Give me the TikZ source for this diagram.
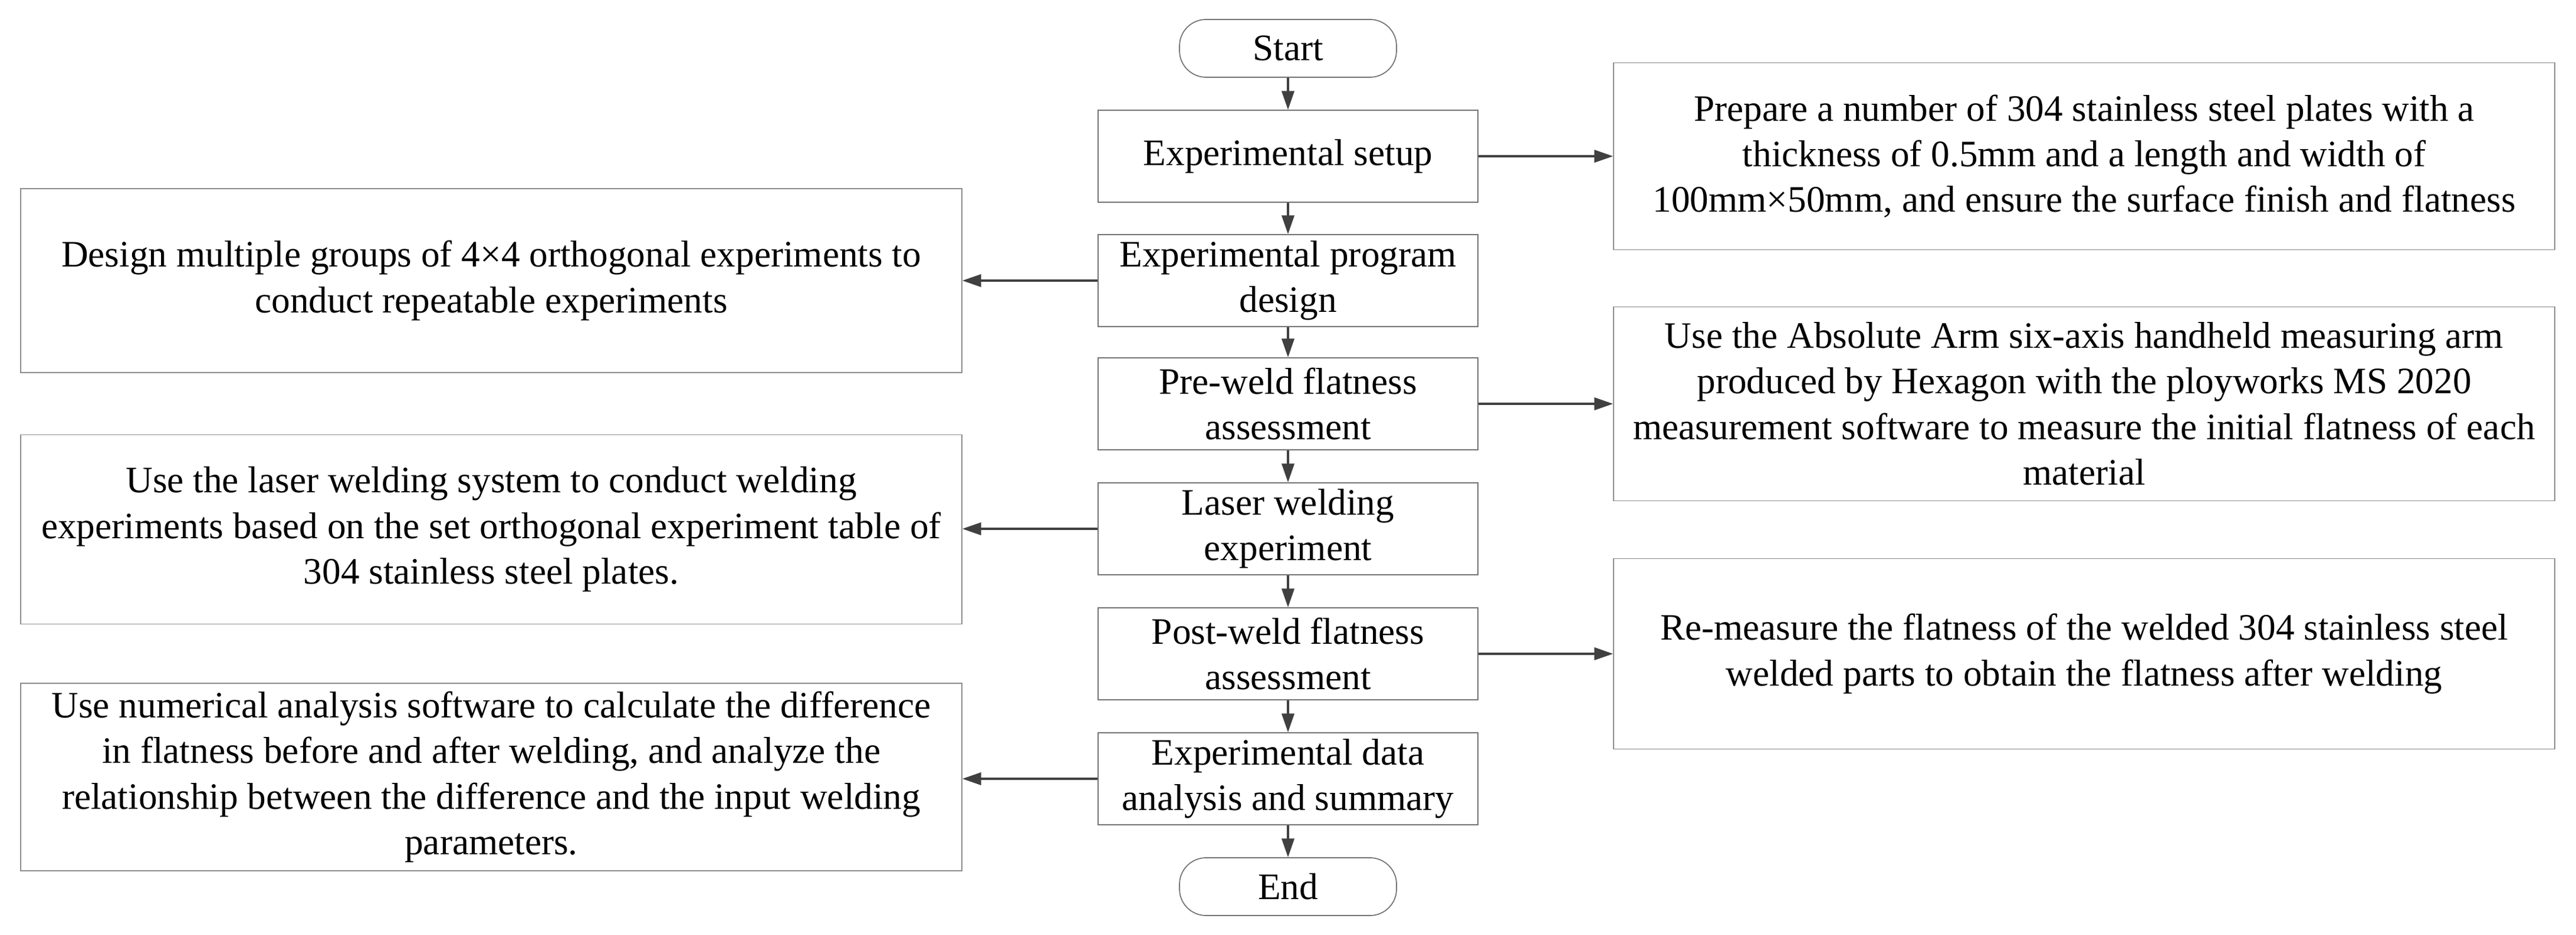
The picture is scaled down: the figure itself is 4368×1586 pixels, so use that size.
\documentclass[tikz,border=0pt]{standalone}
\usepackage{fontspec}
\setmainfont{Liberation Serif}
\usetikzlibrary{arrows.meta}
\begin{document}
\begin{tikzpicture}[x=0.01cm,y=-0.01cm,
  every node/.style={font=\fontsize{18}{22}\selectfont, align=center, inner sep=0pt},
  box/.style={draw=black!55, line width=0.5pt, minimum width=644*0.01cm, minimum height=156*0.01cm},
  term/.style={draw=black!55, line width=0.5pt, rounded corners=0.45cm, minimum width=368*0.01cm, minimum height=98*0.01cm},
  note/.style={draw=black!45, line width=0.5pt, minimum width=1596*0.01cm},
  arr/.style={draw=black!75, line width=0.9pt, -{Triangle[length=9pt,width=6pt]}}]
\useasboundingbox (0,0) rectangle (4368,1586);
\node[term] (start) at (2184,82) {Start};
\node[box] (setup) at (2184,265) {Experimental setup};
\node[box] (design) at (2184,476) {Experimental program\\design};
\node[box] (pre) at (2184,685) {Pre-weld flatness\\assessment};
\node[box] (laser) at (2184,897) {Laser welding\\experiment};
\node[box] (post) at (2184,1109) {Post-weld flatness\\assessment};
\node[box] (data) at (2184,1321) {Experimental data\\analysis and summary};
\node[term] (end) at (2184,1504) {End};
\node[note, minimum height=317*0.01cm] (r1) at (3534,265) {Prepare a number of 304 stainless steel plates with a\\thickness of 0.5mm and a length and width of\\100mm×50mm, and ensure the surface finish and flatness};
\node[note, minimum height=329*0.01cm] (r2) at (3534,685) {Use the Absolute Arm six-axis handheld measuring arm\\produced by Hexagon with the ployworks MS 2020\\measurement software to measure the initial flatness of each\\material};
\node[note, minimum height=323*0.01cm] (r3) at (3534,1109) {Re-measure the flatness of the welded 304 stainless steel\\welded parts to obtain the flatness after welding};
\node[note, minimum height=312*0.01cm] (l1) at (833,476) {Design multiple groups of 4×4 orthogonal experiments to\\conduct repeatable experiments};
\node[note, minimum height=321*0.01cm] (l2) at (833,898) {Use the laser welding system to conduct welding\\experiments based on the set orthogonal experiment table of\\304 stainless steel plates.};
\node[note, minimum height=318*0.01cm] (l3) at (833,1318) {Use numerical analysis software to calculate the difference\\in flatness before and after welding, and analyze the\\relationship between the difference and the input welding\\parameters.};
\draw[arr] (start) -- (setup);
\draw[arr] (setup) -- (design);
\draw[arr] (design) -- (pre);
\draw[arr] (pre) -- (laser);
\draw[arr] (laser) -- (post);
\draw[arr] (post) -- (data);
\draw[arr] (data) -- (end);
\draw[arr] (setup.east) -- (setup.east -| r1.west);
\draw[arr] (pre.east) -- (pre.east -| r2.west);
\draw[arr] (post.east) -- (post.east -| r3.west);
\draw[arr] (design.west) -- (design.west -| l1.east);
\draw[arr] (laser.west) -- (laser.west -| l2.east);
\draw[arr] (data.west) -- (data.west -| l3.east);
\end{tikzpicture}
\end{document}
